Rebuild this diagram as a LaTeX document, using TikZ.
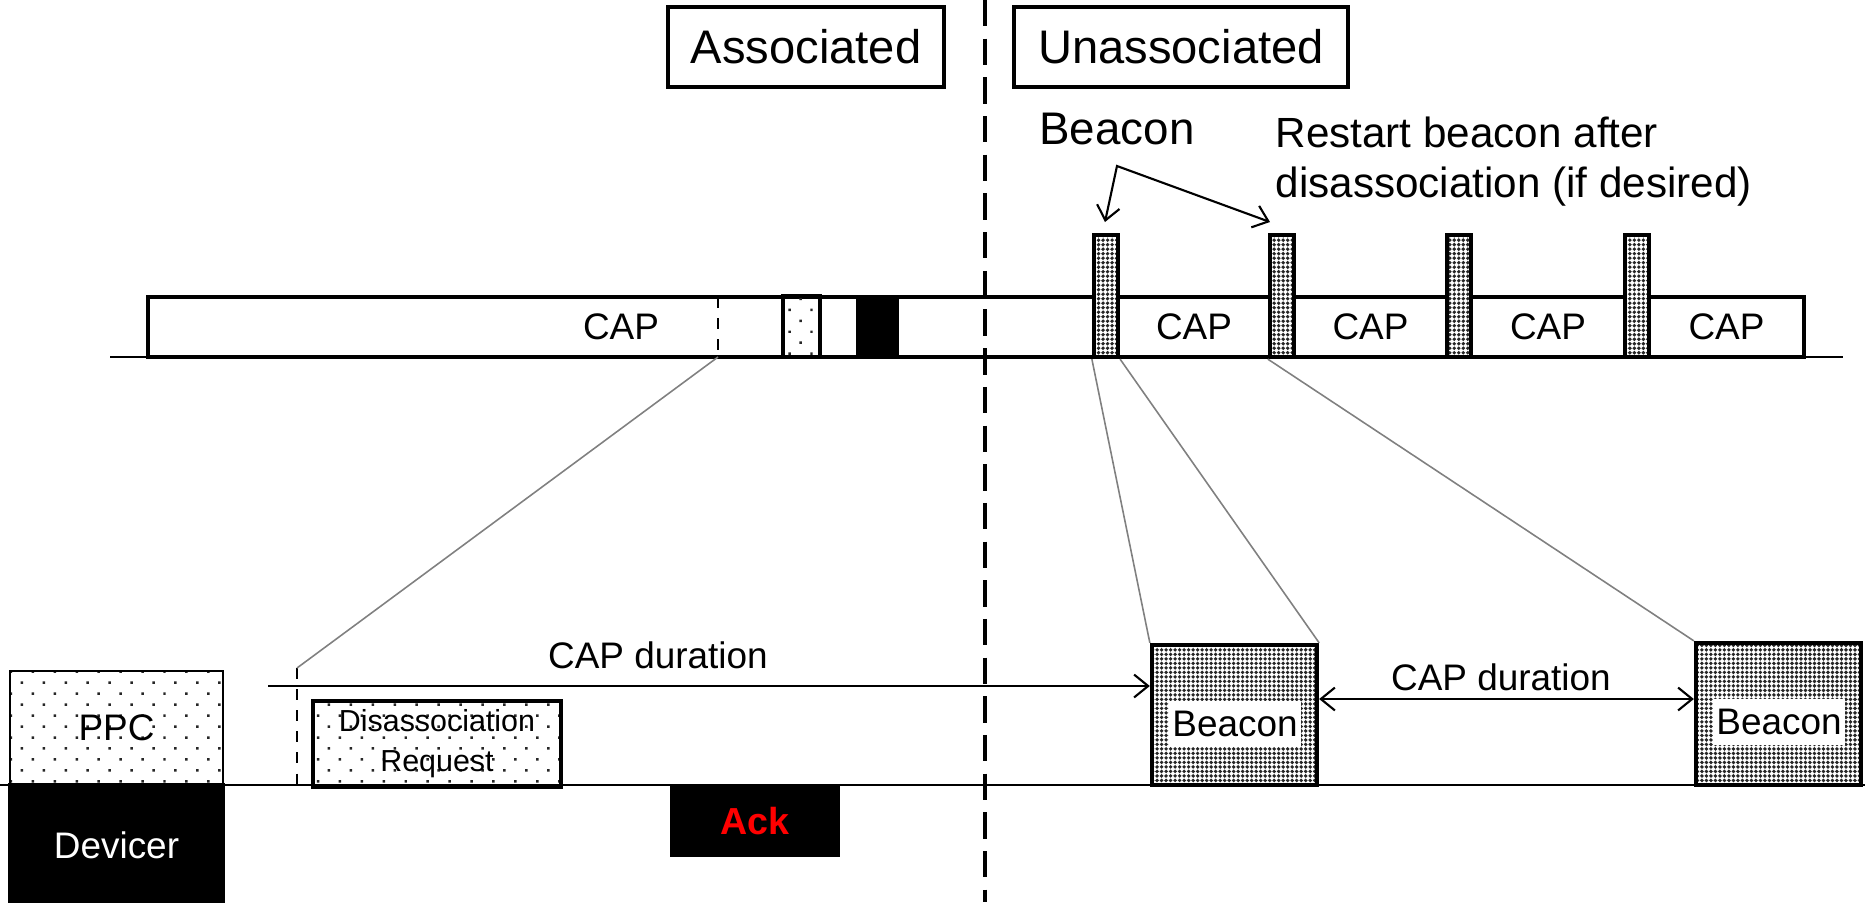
\documentclass[tikz,border=0pt]{standalone}
\usepackage{fontspec}
\setmainfont{Liberation Sans}
\usepackage{tikz}
\usetikzlibrary{arrows.meta,patterns.meta}
\def\slotw{0.24cm}
\def\bcnw{1.65cm}

\begin{document}
\begin{tikzpicture}[x=0.01cm,y=-0.01cm,>={Straight Barb[length=4pt,width=6.5pt]},font=\fontsize{10.5}{12.6}\selectfont]
    		\tikzstyle{tlbox}=[draw,rectangle,inner sep=0pt,line width=1.2pt]
    		\tikzstyle{statebox}=[tlbox,line width=1pt,minimum height=0.8cm,font=\fontsize{13.4}{16}\selectfont]
    		\tikzstyle{capbox}=[tlbox,minimum height=0.6cm]
    		\tikzstyle{fine dots}=[pattern={Dots[distance=0.045cm,radius=0.55pt]},pattern color=black!85]
    		\tikzstyle{sparse dots}=[pattern={Dots[distance=0.155cm,angle=45,radius=0.5pt]},pattern color=black!85]
    		\tikzstyle{slotbox}=[tlbox,fine dots,minimum width=\slotw,minimum height=1.22cm]
    		\tikzstyle{beaconbox}=[tlbox,fine dots,minimum width=\bcnw,minimum height=1.4cm]
    		\tikzstyle{beacontxt}=[fill=white,inner xsep=1pt,inner ysep=3pt]
    		\tikzstyle{zoomline}=[draw=black!50,line width=0.45pt]
    		\tikzstyle{tline}=[line width=0.7pt]

    		\useasboundingbox (0,0) rectangle (1865,902);

    		% state tabs
    		\node[statebox,minimum width=2.76cm] (tab-a) at (806,47) {Associated};
    		\node[statebox,minimum width=3.34cm] (tab-u) at (1181,47) {Unassociated};

    		% superframe line
    		\coordinate (top-l) at (110,357);
    		\coordinate (top-r) at (1843,357);
    		\draw[tline] (top-l) -- (top-r);
    		\node[capbox,minimum width=9.46cm] (cap-0) at (621,327) {CAP};
    		\node[tlbox,sparse dots,minimum width=0.37cm,minimum height=0.61cm] (req-0) at (801.5,326.5) {};
    		\node[tlbox,fill=black,minimum width=0.39cm,minimum height=0.6cm] (ack-0) at (877.5,327) {};
    		\coordinate (cut-t) at (718,297);
    		\coordinate (cut-b) at (718,357);
    		\draw[dashed,line width=0.5pt] (cut-t) -- (cut-b);

    		\node[capbox,minimum width=1.52cm] (cap-1) at (1194,327) {CAP};
    		\node[capbox,minimum width=1.53cm] (cap-2) at (1370.5,327) {CAP};
    		\node[capbox,minimum width=1.54cm] (cap-3) at (1548,327) {CAP};
    		\node[capbox,minimum width=1.55cm] (cap-4) at (1726.5,327) {CAP};
    		\node[slotbox] (slot-1) at (1106,296) {};
    		\node[slotbox] (slot-2) at (1282,296) {};
    		\node[slotbox] (slot-3) at (1459,296) {};
    		\node[slotbox] (slot-4) at (1637,296) {};

    		% beacon callout
    		\node[font=\fontsize{13}{15.6}\selectfont] (bcn-lbl) at (1117,129) {Beacon};
    		\node[anchor=north west,inner sep=0pt,align=left,font=\fontsize{12}{14.3}\selectfont] (restart) at (1275,116) {Restart beacon after\\disassociation (if desired)};
    		\coordinate (apex) at (1117,166);
    		\coordinate (tip-1) at (1105,222);
    		\coordinate (tip-2) at (1270,222);
    		\draw[<->,line width=0.6pt] (tip-1) -- (apex) -- (tip-2);

    		% device line
    		\coordinate (bot-l) at (0,785);
    		\coordinate (bot-r) at (1865,785);
    		\draw[tline] (bot-l) -- (bot-r);
    		\node[tlbox,line width=0.8pt,sparse dots,minimum width=2.13cm,minimum height=1.14cm] (ppc) at (116.5,728) {PPC};
    		\node[tlbox,fill=black,text=white,minimum width=2.13cm,minimum height=1.2cm] (dev) at (116.5,845) {Devicer};
    		\node[tlbox,line width=1pt,sparse dots,minimum width=2.48cm,minimum height=0.86cm,align=center,font=\fontsize{8.65}{11.4}\selectfont] (dis-req) at (437,744) {Disassociation\\Request};
    		\node[tlbox,fill=black,text=red,font=\fontsize{10.7}{12.8}\selectfont\bfseries,minimum width=1.66cm,minimum height=0.68cm] (ack) at (755,821) {Ack};
    		\coordinate (zoom-t) at (297,668);
    		\coordinate (zoom-b) at (297,788);
    		\draw[dashed,line width=0.5pt] (zoom-t) -- (zoom-b);
    		\draw[zoomline] (cut-b) -- (zoom-t);

    		\node[beaconbox] (bcn-1) at (1234.5,715) {};
    		\node[beacontxt] (bcn-1-txt) at (1235,724) {Beacon};
    		\node[beaconbox,minimum height=1.42cm] (bcn-2) at (1778.5,714) {};
    		\node[beacontxt] (bcn-2-txt) at (1779,722) {Beacon};
    		\draw[zoomline] (slot-1.south west) -- (bcn-1.north west);
    		\draw[zoomline] (slot-1.south east) -- (bcn-1.north east);
    		\draw[zoomline] (slot-2.south west) -- (bcn-2.north west);

    		% CAP durations
    		\coordinate (dur-a) at (268,686);
    		\draw[->,line width=0.6pt] (dur-a) -- (dur-a -| bcn-1.west);
    		\node (dur-a-lbl) at (658,655) {CAP duration};
    		\coordinate (dur-b) at (1500,699);
    		\draw[<->,line width=0.6pt] (bcn-1.east |- dur-b) -- (bcn-2.west |- dur-b);
    		\node (dur-b-lbl) at (1501,677) {CAP duration};

    		% association boundary
    		\coordinate (div-t) at (985,0);
    		\coordinate (div-b) at (985,902);
    		\draw[line width=0.9pt,dash pattern=on 7.5pt off 3.5pt] (div-t) -- (div-b);
    	\end{tikzpicture}
\end{document}
